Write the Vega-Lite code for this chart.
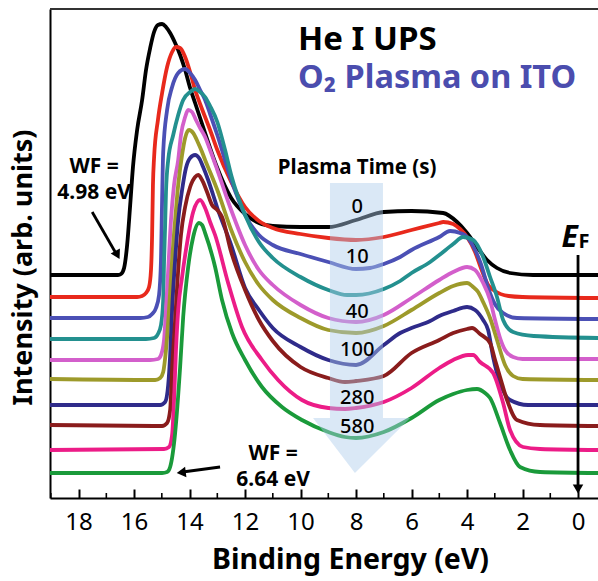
{
  "$schema": "https://vega.github.io/schema/vega-lite/v6.json",
  "width": 548,
  "height": 489,
  "autosize": {"type": "none"},
  "padding": {"left": 50, "top": 9, "right": 0, "bottom": 83},
  "background": "white",
  "config": {"view": {"stroke": null}, "font": "Noto Sans"},
  "datasets": {
    "curves": [
      {"s":"s01","e":19.03,"i":223},{"s":"s01","e":17.0,"i":223},{"s":"s01","e":16.58,"i":223},{"s":"s01","e":16.47,"i":224},{"s":"s01","e":16.36,"i":230},{"s":"s01","e":16.25,"i":253},{"s":"s01","e":16.14,"i":293},{"s":"s01","e":16.04,"i":331},{"s":"s01","e":15.89,"i":368},{"s":"s01","e":15.71,"i":398},{"s":"s01","e":15.57,"i":428},{"s":"s01","e":15.42,"i":450},{"s":"s01","e":15.28,"i":466},{"s":"s01","e":15.14,"i":473},{"s":"s01","e":14.99,"i":474},{"s":"s01","e":14.85,"i":471},{"s":"s01","e":14.70,"i":465},{"s":"s01","e":14.52,"i":455},{"s":"s01","e":14.34,"i":443},{"s":"s01","e":14.16,"i":428},{"s":"s01","e":13.98,"i":410},{"s":"s01","e":13.80,"i":395},{"s":"s01","e":13.62,"i":380},{"s":"s01","e":13.44,"i":365},{"s":"s01","e":13.26,"i":350},{"s":"s01","e":13.0,"i":330},{"s":"s01","e":12.5,"i":300},{"s":"s01","e":12.0,"i":284},{"s":"s01","e":11.5,"i":275},{"s":"s01","e":11.0,"i":272},{"s":"s01","e":10.0,"i":271},{"s":"s01","e":9.0,"i":271},{"s":"s01","e":8.0,"i":278},{"s":"s01","e":7.0,"i":286},{"s":"s01","e":6.0,"i":287},{"s":"s01","e":4.86,"i":285},{"s":"s01","e":4.36,"i":276},{"s":"s01","e":4.0,"i":265},{"s":"s01","e":3.64,"i":251},{"s":"s01","e":3.28,"i":238},{"s":"s01","e":2.92,"i":230},{"s":"s01","e":2.45,"i":225},{"s":"s01","e":1.62,"i":223},{"s":"s01","e":-0.72,"i":223},

      {"s":"s02","e":19.03,"i":201},{"s":"s02","e":16.0,"i":201},{"s":"s02","e":15.89,"i":201},{"s":"s02","e":15.71,"i":202},{"s":"s02","e":15.57,"i":205},{"s":"s02","e":15.46,"i":211},{"s":"s02","e":15.39,"i":228},{"s":"s02","e":15.35,"i":263},{"s":"s02","e":15.32,"i":313},{"s":"s02","e":15.28,"i":340},{"s":"s02","e":15.14,"i":378},{"s":"s02","e":14.99,"i":405},{"s":"s02","e":14.81,"i":431},{"s":"s02","e":14.63,"i":446},{"s":"s02","e":14.49,"i":451},{"s":"s02","e":14.34,"i":450},{"s":"s02","e":14.16,"i":441},{"s":"s02","e":13.98,"i":426},{"s":"s02","e":13.80,"i":408},{"s":"s02","e":13.62,"i":394},{"s":"s02","e":13.44,"i":381},{"s":"s02","e":13.26,"i":368},{"s":"s02","e":13.0,"i":348},{"s":"s02","e":12.5,"i":316},{"s":"s02","e":12.0,"i":291},{"s":"s02","e":11.5,"i":277},{"s":"s02","e":11.0,"i":270},{"s":"s02","e":10.0,"i":264},{"s":"s02","e":9.0,"i":260},{"s":"s02","e":8.0,"i":258},{"s":"s02","e":7.0,"i":261},{"s":"s02","e":6.0,"i":268},{"s":"s02","e":5.0,"i":275},{"s":"s02","e":4.86,"i":276},{"s":"s02","e":4.5,"i":274},{"s":"s02","e":4.25,"i":269},{"s":"s02","e":4.0,"i":261},{"s":"s02","e":3.71,"i":246},{"s":"s02","e":3.5,"i":230},{"s":"s02","e":3.24,"i":213},{"s":"s02","e":3.0,"i":207},{"s":"s02","e":2.5,"i":202},{"s":"s02","e":2.0,"i":201},{"s":"s02","e":-0.72,"i":200},

      {"s":"s03","e":19.03,"i":180},{"s":"s03","e":15.78,"i":180},{"s":"s03","e":15.5,"i":181},{"s":"s03","e":15.35,"i":184},{"s":"s03","e":15.21,"i":190},{"s":"s03","e":15.10,"i":203},{"s":"s03","e":15.03,"i":238},{"s":"s03","e":14.99,"i":298},{"s":"s03","e":14.95,"i":346},{"s":"s03","e":14.81,"i":388},{"s":"s03","e":14.63,"i":411},{"s":"s03","e":14.41,"i":425},{"s":"s03","e":14.16,"i":429},{"s":"s03","e":13.98,"i":425},{"s":"s03","e":13.80,"i":418},{"s":"s03","e":13.62,"i":408},{"s":"s03","e":13.44,"i":398},{"s":"s03","e":13.26,"i":384},{"s":"s03","e":13.0,"i":363},{"s":"s03","e":12.5,"i":318},{"s":"s03","e":12.0,"i":283},{"s":"s03","e":11.5,"i":263},{"s":"s03","e":11.0,"i":253},{"s":"s03","e":10.0,"i":244},{"s":"s03","e":9.0,"i":236},{"s":"s03","e":8.0,"i":229},{"s":"s03","e":7.5,"i":230},{"s":"s03","e":7.0,"i":234},{"s":"s03","e":6.41,"i":241},{"s":"s03","e":6.0,"i":248},{"s":"s03","e":5.0,"i":261},{"s":"s03","e":4.61,"i":267},{"s":"s03","e":4.25,"i":265},{"s":"s03","e":4.0,"i":261},{"s":"s03","e":3.71,"i":248},{"s":"s03","e":3.5,"i":234},{"s":"s03","e":3.24,"i":210},{"s":"s03","e":3.0,"i":194},{"s":"s03","e":2.7,"i":185},{"s":"s03","e":2.2,"i":180},{"s":"s03","e":-0.72,"i":179},

      {"s":"s04","e":19.03,"i":159},{"s":"s04","e":15.57,"i":159},{"s":"s04","e":15.28,"i":160},{"s":"s04","e":15.14,"i":164},{"s":"s04","e":15.03,"i":173},{"s":"s04","e":14.95,"i":198},{"s":"s04","e":14.92,"i":236},{"s":"s04","e":14.88,"i":273},{"s":"s04","e":14.85,"i":306},{"s":"s04","e":14.77,"i":338},{"s":"s04","e":14.59,"i":363},{"s":"s04","e":14.41,"i":383},{"s":"s04","e":14.23,"i":398},{"s":"s04","e":13.98,"i":406},{"s":"s04","e":13.80,"i":409},{"s":"s04","e":13.62,"i":406},{"s":"s04","e":13.44,"i":401},{"s":"s04","e":13.26,"i":392},{"s":"s04","e":13.0,"i":376},{"s":"s04","e":12.72,"i":348},{"s":"s04","e":12.5,"i":323},{"s":"s04","e":12.0,"i":283},{"s":"s04","e":11.5,"i":256},{"s":"s04","e":11.0,"i":240},{"s":"s04","e":10.0,"i":221},{"s":"s04","e":9.0,"i":208},{"s":"s04","e":8.32,"i":203},{"s":"s04","e":8.0,"i":203},{"s":"s04","e":7.0,"i":209},{"s":"s04","e":6.41,"i":217},{"s":"s04","e":6.0,"i":225},{"s":"s04","e":5.33,"i":236},{"s":"s04","e":5.0,"i":243},{"s":"s04","e":4.5,"i":254},{"s":"s04","e":4.14,"i":261},{"s":"s04","e":3.78,"i":258},{"s":"s04","e":3.42,"i":241},{"s":"s04","e":3.17,"i":221},{"s":"s04","e":2.92,"i":201},{"s":"s04","e":2.70,"i":178},{"s":"s04","e":2.34,"i":166},{"s":"s04","e":1.6,"i":162},{"s":"s04","e":-0.72,"i":160},

      {"s":"s05","e":19.03,"i":138},{"s":"s05","e":15.42,"i":138},{"s":"s05","e":15.14,"i":139},{"s":"s05","e":15.03,"i":143},{"s":"s05","e":14.92,"i":158},{"s":"s05","e":14.85,"i":188},{"s":"s05","e":14.77,"i":228},{"s":"s05","e":14.67,"i":278},{"s":"s05","e":14.56,"i":313},{"s":"s05","e":14.41,"i":338},{"s":"s05","e":14.31,"i":363},{"s":"s05","e":14.16,"i":381},{"s":"s05","e":14.05,"i":388},{"s":"s05","e":13.91,"i":386},{"s":"s05","e":13.77,"i":378},{"s":"s05","e":13.62,"i":370},{"s":"s05","e":13.44,"i":361},{"s":"s05","e":13.26,"i":348},{"s":"s05","e":13.0,"i":328},{"s":"s05","e":12.5,"i":288},{"s":"s05","e":12.0,"i":253},{"s":"s05","e":11.5,"i":228},{"s":"s05","e":11.0,"i":213},{"s":"s05","e":10.0,"i":193},{"s":"s05","e":9.0,"i":180},{"s":"s05","e":8.0,"i":176},{"s":"s05","e":7.0,"i":183},{"s":"s05","e":6.0,"i":200},{"s":"s05","e":5.0,"i":218},{"s":"s05","e":4.5,"i":226},{"s":"s05","e":4.0,"i":231},{"s":"s05","e":3.71,"i":228},{"s":"s05","e":3.42,"i":215},{"s":"s05","e":3.17,"i":198},{"s":"s05","e":2.99,"i":178},{"s":"s05","e":2.81,"i":160},{"s":"s05","e":2.63,"i":148},{"s":"s05","e":2.34,"i":141},{"s":"s05","e":2.0,"i":139},{"s":"s05","e":-0.72,"i":139},

      {"s":"s06","e":19.03,"i":119},{"s":"s06","e":15.24,"i":118},{"s":"s06","e":15.06,"i":120},{"s":"s06","e":14.95,"i":126},{"s":"s06","e":14.85,"i":148},{"s":"s06","e":14.74,"i":188},{"s":"s06","e":14.63,"i":238},{"s":"s06","e":14.52,"i":278},{"s":"s06","e":14.41,"i":313},{"s":"s06","e":14.27,"i":343},{"s":"s06","e":14.16,"i":360},{"s":"s06","e":14.02,"i":368},{"s":"s06","e":13.87,"i":365},{"s":"s06","e":13.69,"i":355},{"s":"s06","e":13.55,"i":346},{"s":"s06","e":13.44,"i":338},{"s":"s06","e":13.26,"i":326},{"s":"s06","e":13.0,"i":308},{"s":"s06","e":12.5,"i":268},{"s":"s06","e":12.0,"i":236},{"s":"s06","e":11.5,"i":213},{"s":"s06","e":11.0,"i":198},{"s":"s06","e":10.0,"i":180},{"s":"s06","e":9.0,"i":168},{"s":"s06","e":8.0,"i":165},{"s":"s06","e":7.0,"i":172},{"s":"s06","e":6.0,"i":188},{"s":"s06","e":5.0,"i":205},{"s":"s06","e":4.5,"i":212},{"s":"s06","e":4.0,"i":215},{"s":"s06","e":3.78,"i":211},{"s":"s06","e":3.60,"i":206},{"s":"s06","e":3.42,"i":196},{"s":"s06","e":3.17,"i":180},{"s":"s06","e":2.92,"i":158},{"s":"s06","e":2.63,"i":133},{"s":"s06","e":2.34,"i":122},{"s":"s06","e":2.0,"i":119},{"s":"s06","e":-0.72,"i":118},

      {"s":"s07","e":19.03,"i":93},{"s":"s07","e":15.06,"i":93},{"s":"s07","e":14.88,"i":96},{"s":"s07","e":14.77,"i":113},{"s":"s07","e":14.70,"i":143},{"s":"s07","e":14.63,"i":188},{"s":"s07","e":14.52,"i":238},{"s":"s07","e":14.41,"i":278},{"s":"s07","e":14.27,"i":308},{"s":"s07","e":14.13,"i":330},{"s":"s07","e":13.98,"i":340},{"s":"s07","e":13.80,"i":343},{"s":"s07","e":13.66,"i":340},{"s":"s07","e":13.51,"i":331},{"s":"s07","e":13.33,"i":318},{"s":"s07","e":13.15,"i":303},{"s":"s07","e":13.0,"i":290},{"s":"s07","e":12.5,"i":253},{"s":"s07","e":12.0,"i":210},{"s":"s07","e":11.5,"i":188},{"s":"s07","e":11.0,"i":170},{"s":"s07","e":10.0,"i":151},{"s":"s07","e":9.0,"i":138},{"s":"s07","e":8.0,"i":133},{"s":"s07","e":7.0,"i":153},{"s":"s07","e":6.41,"i":165},{"s":"s07","e":6.0,"i":170},{"s":"s07","e":5.33,"i":177},{"s":"s07","e":5.0,"i":182},{"s":"s07","e":4.5,"i":187},{"s":"s07","e":4.0,"i":191},{"s":"s07","e":3.71,"i":188},{"s":"s07","e":3.42,"i":178},{"s":"s07","e":3.24,"i":168},{"s":"s07","e":3.06,"i":141},{"s":"s07","e":2.81,"i":115},{"s":"s07","e":2.45,"i":98},{"s":"s07","e":1.8,"i":93},{"s":"s07","e":-0.72,"i":93},

      {"s":"s08","e":19.03,"i":73},{"s":"s08","e":14.99,"i":72},{"s":"s08","e":14.81,"i":75},{"s":"s08","e":14.70,"i":88},{"s":"s08","e":14.63,"i":128},{"s":"s08","e":14.52,"i":178},{"s":"s08","e":14.41,"i":228},{"s":"s08","e":14.31,"i":263},{"s":"s08","e":14.16,"i":291},{"s":"s08","e":13.98,"i":311},{"s":"s08","e":13.80,"i":321},{"s":"s08","e":13.69,"i":323},{"s":"s08","e":13.55,"i":318},{"s":"s08","e":13.37,"i":306},{"s":"s08","e":13.19,"i":293},{"s":"s08","e":13.0,"i":288},{"s":"s08","e":12.83,"i":281},{"s":"s08","e":12.5,"i":246},{"s":"s08","e":12.0,"i":208},{"s":"s08","e":11.5,"i":178},{"s":"s08","e":11.0,"i":157},{"s":"s08","e":10.0,"i":131},{"s":"s08","e":9.0,"i":120},{"s":"s08","e":8.4,"i":116},{"s":"s08","e":8.0,"i":117},{"s":"s08","e":7.0,"i":122},{"s":"s08","e":6.0,"i":145},{"s":"s08","e":5.0,"i":158},{"s":"s08","e":4.5,"i":165},{"s":"s08","e":4.0,"i":169},{"s":"s08","e":3.82,"i":170},{"s":"s08","e":3.53,"i":164},{"s":"s08","e":3.17,"i":155},{"s":"s08","e":2.99,"i":138},{"s":"s08","e":2.81,"i":121},{"s":"s08","e":2.56,"i":98},{"s":"s08","e":2.2,"i":78},{"s":"s08","e":1.37,"i":73},{"s":"s08","e":-0.72,"i":72},

      {"s":"s09","e":19.03,"i":48},{"s":"s09","e":14.92,"i":49},{"s":"s09","e":14.74,"i":51},{"s":"s09","e":14.63,"i":63},{"s":"s09","e":14.56,"i":98},{"s":"s09","e":14.49,"i":148},{"s":"s09","e":14.41,"i":188},{"s":"s09","e":14.27,"i":221},{"s":"s09","e":14.09,"i":255},{"s":"s09","e":13.87,"i":286},{"s":"s09","e":13.62,"i":298},{"s":"s09","e":13.44,"i":290},{"s":"s09","e":13.26,"i":276},{"s":"s09","e":13.08,"i":263},{"s":"s09","e":12.61,"i":215},{"s":"s09","e":12.11,"i":171},{"s":"s09","e":11.39,"i":138},{"s":"s09","e":10.81,"i":118},{"s":"s09","e":9.95,"i":98},{"s":"s09","e":9.0,"i":90},{"s":"s09","e":8.4,"i":89},{"s":"s09","e":8.0,"i":90},{"s":"s09","e":7.0,"i":96},{"s":"s09","e":6.0,"i":110},{"s":"s09","e":5.0,"i":130},{"s":"s09","e":4.5,"i":138},{"s":"s09","e":3.96,"i":143},{"s":"s09","e":3.78,"i":143},{"s":"s09","e":3.53,"i":136},{"s":"s09","e":3.06,"i":125},{"s":"s09","e":2.70,"i":95},{"s":"s09","e":2.45,"i":68},{"s":"s09","e":1.98,"i":51},{"s":"s09","e":1.37,"i":49},{"s":"s09","e":-0.72,"i":48},

      {"s":"s10","e":19.03,"i":25},{"s":"s10","e":14.99,"i":25},{"s":"s10","e":14.81,"i":26},{"s":"s10","e":14.70,"i":31},{"s":"s10","e":14.52,"i":65},{"s":"s10","e":14.34,"i":131},{"s":"s10","e":14.23,"i":181},{"s":"s10","e":14.05,"i":231},{"s":"s10","e":13.87,"i":261},{"s":"s10","e":13.66,"i":275},{"s":"s10","e":13.55,"i":273},{"s":"s10","e":13.44,"i":265},{"s":"s10","e":13.08,"i":231},{"s":"s10","e":12.83,"i":198},{"s":"s10","e":12.47,"i":165},{"s":"s10","e":12.0,"i":138},{"s":"s10","e":11.39,"i":111},{"s":"s10","e":10.67,"i":91},{"s":"s10","e":9.95,"i":78},{"s":"s10","e":9.0,"i":66},{"s":"s10","e":8.4,"i":61},{"s":"s10","e":8.0,"i":60},{"s":"s10","e":7.0,"i":66},{"s":"s10","e":6.0,"i":80},{"s":"s10","e":5.0,"i":98},{"s":"s10","e":4.5,"i":104},{"s":"s10","e":4.0,"i":108},{"s":"s10","e":3.64,"i":109},{"s":"s10","e":3.35,"i":105},{"s":"s10","e":3.17,"i":100},{"s":"s10","e":2.81,"i":75},{"s":"s10","e":2.45,"i":48},{"s":"s10","e":2.09,"i":31},{"s":"s10","e":1.37,"i":26},{"s":"s10","e":-0.72,"i":25}
    ]
  },
  "layer": [
    {
      "data": {"name": "curves"},
      "mark": {"type": "line", "strokeWidth": 3.8, "interpolate": "monotone"},
      "encoding": {
        "x": {"field": "e", "type": "quantitative",
          "scale": {"domain": [-0.72, 19.03], "reverse": true, "nice": false, "zero": false},
          "axis": {"values": [18,16,14,12,10,8,6,4,2,0], "title": "Binding Energy (eV)", "titleFontSize": 28.5, "titleFontWeight": "bold", "titleX": 300, "titleY": 70, "titleBaseline": "alphabetic", "titleColor": "#000",
            "labelFontSize": 24, "labelColor": "#000", "labelPadding": 21, "labelFlush": false, "labelOverlap": false,
            "tickSize": -9, "tickWidth": 2, "tickColor": "#000", "domainColor": "#000", "domainWidth": 2, "grid": false}},
        "y": {"field": "i", "type": "quantitative",
          "scale": {"domain": [0, 489], "nice": false, "zero": false},
          "axis": {"title": "Intensity (arb. units)", "ticks": false, "labels": false, "grid": false, "domainColor": "#000", "domainWidth": 2, "titleFontSize": 27, "titleFontWeight": "bold", "titleColor": "#000", "titleX": -27, "titleY": 258, "titleAngle": -90, "titleAlign": "center", "titleBaseline": "middle"}},
        "color": {"field": "s", "type": "nominal", "legend": null,
          "scale": {"domain": ["s01","s02","s03","s04","s05","s06","s07","s08","s09","s10"],
            "range": ["#000000","#e8291c","#4b50b5","#23908f","#d35fcb","#9d9a2a","#2f2b8a","#8a1c1c","#ec1c87","#1a9a3a"]}}
      }
    },
    {
      "data": {"values": [{"e1": 8.94, "e2": 7.03, "i1": 80, "i2": 315}]},
      "mark": {"type": "rect", "color": "#aecbeb", "opacity": 0.45},
      "encoding": {
        "x": {"field": "e1", "type": "quantitative"},
        "x2": {"field": "e2"},
        "y": {"field": "i1", "type": "quantitative"},
        "y2": {"field": "i2"}
      }
    },
    {
      "data": {"values": [{"e": 9.55, "t": 80, "b": 80}, {"e": 8.04, "t": 80, "b": 25}, {"e": 6.05, "t": 80, "b": 80}]},
      "mark": {"type": "area", "color": "#aecbeb", "opacity": 0.45, "interpolate": "linear"},
      "encoding": {
        "x": {"field": "e", "type": "quantitative"},
        "y": {"field": "t", "type": "quantitative"},
        "y2": {"field": "b"}
      }
    },
    {
      "data": {"values": [{"t": "0", "e": 7.96, "i": 291}, {"t": "10", "e": 7.96, "i": 241}, {"t": "40", "e": 7.96, "i": 186}, {"t": "100", "e": 7.96, "i": 148}, {"t": "280", "e": 7.96, "i": 100}, {"t": "580", "e": 7.96, "i": 71}]},
      "mark": {"type": "text", "fontSize": 20, "fontWeight": 500, "color": "#000", "align": "center", "baseline": "middle"},
      "encoding": {
        "x": {"field": "e", "type": "quantitative"},
        "y": {"field": "i", "type": "quantitative"},
        "text": {"field": "t"}
      }
    },
    {
      "data": {"values": [{"t": "Plasma Time (s)", "e": 7.96, "i": 330}]},
      "mark": {"type": "text", "fontSize": 20.5, "fontWeight": "bold", "color": "#000", "align": "center", "baseline": "middle"},
      "encoding": {
        "x": {"field": "e", "type": "quantitative"},
        "y": {"field": "i", "type": "quantitative"},
        "text": {"field": "t"}
      }
    },
    {
      "data": {"values": [{"t": "He I UPS", "e": 10.09, "i": 448}]},
      "mark": {"type": "text", "fontSize": 33, "fontWeight": "bold", "color": "#000", "align": "left", "baseline": "alphabetic"},
      "encoding": {
        "x": {"field": "e", "type": "quantitative"},
        "y": {"field": "i", "type": "quantitative"},
        "text": {"field": "t"}
      }
    },
    {
      "data": {"values": [{"t": "O₂ Plasma on ITO", "e": 10.09, "i": 410}]},
      "mark": {"type": "text", "fontSize": 32.5, "fontWeight": "bold", "color": "#4b4dae", "align": "left", "baseline": "alphabetic"},
      "encoding": {
        "x": {"field": "e", "type": "quantitative"},
        "y": {"field": "i", "type": "quantitative"},
        "text": {"field": "t"}
      }
    },
    {
      "data": {"values": [{"t": "WF =", "e": 17.44, "i": 331}, {"t": "4.98 eV", "e": 17.44, "i": 305}, {"t": "WF =", "e": 10.99, "i": 44}, {"t": "6.64 eV", "e": 10.99, "i": 18}]},
      "mark": {"type": "text", "fontSize": 21, "fontWeight": "bold", "color": "#000", "align": "center", "baseline": "middle"},
      "encoding": {
        "x": {"field": "e", "type": "quantitative"},
        "y": {"field": "i", "type": "quantitative"},
        "text": {"field": "t"}
      }
    },
    {
      "data": {"values": [{"e1": 17.51, "i1": 286, "e2": 16.66, "i2": 245}, {"e1": 12.90, "i1": 31, "e2": 14.25, "i2": 26}, {"e1": 0, "i1": 243, "e2": 0, "i2": 12}]},
      "mark": {"type": "rule", "strokeWidth": 2.8, "color": "#000"},
      "encoding": {
        "x": {"field": "e1", "type": "quantitative"},
        "y": {"field": "i1", "type": "quantitative"},
        "x2": {"field": "e2"},
        "y2": {"field": "i2"}
      }
    },
    {
      "data": {"values": [{"e": 16.6, "i": 243}]},
      "mark": {"type": "point", "shape": "triangle-down", "filled": true, "size": 110, "color": "#000", "opacity": 1, "angle": 332},
      "encoding": {
        "x": {"field": "e", "type": "quantitative"},
        "y": {"field": "i", "type": "quantitative"}
      }
    },
    {
      "data": {"values": [{"e": 14.3, "i": 25.5}]},
      "mark": {"type": "point", "shape": "triangle-left", "filled": true, "size": 110, "color": "#000", "opacity": 1, "angle": 353},
      "encoding": {
        "x": {"field": "e", "type": "quantitative"},
        "y": {"field": "i", "type": "quantitative"}
      }
    },
    {
      "data": {"values": [{"e": 0, "i": 9}]},
      "mark": {"type": "point", "shape": "triangle-down", "filled": true, "size": 110, "color": "#000", "opacity": 1},
      "encoding": {
        "x": {"field": "e", "type": "quantitative"},
        "y": {"field": "i", "type": "quantitative"}
      }
    },
    {
      "data": {"values": [{"t": "E", "e": 0.3, "i": 251}]},
      "mark": {"type": "text", "fontSize": 30, "fontWeight": "bold", "fontStyle": "italic", "color": "#000", "align": "center", "baseline": "alphabetic"},
      "encoding": {
        "x": {"field": "e", "type": "quantitative"},
        "y": {"field": "i", "type": "quantitative"},
        "text": {"field": "t"}
      }
    },
    {
      "data": {"values": [{"t": "F", "e": -0.02, "i": 250}]},
      "mark": {"type": "text", "fontSize": 20, "fontWeight": "bold", "color": "#000", "align": "left", "baseline": "alphabetic"},
      "encoding": {
        "x": {"field": "e", "type": "quantitative"},
        "y": {"field": "i", "type": "quantitative"},
        "text": {"field": "t"}
      }
    },
    {
      "data": {"values": [{"i": 489}]},
      "mark": {"type": "rule", "strokeWidth": 2, "color": "#333"},
      "encoding": {
        "y": {"field": "i", "type": "quantitative"}
      }
    },
    {
      "data": {"values": [{"e": 19, "i1": 0, "i2": 5}, {"e": 17, "i1": 0, "i2": 5}, {"e": 15, "i1": 0, "i2": 5}, {"e": 13, "i1": 0, "i2": 5}, {"e": 11, "i1": 0, "i2": 5}, {"e": 9, "i1": 0, "i2": 5}, {"e": 7, "i1": 0, "i2": 5}, {"e": 5, "i1": 0, "i2": 5}, {"e": 3, "i1": 0, "i2": 5}, {"e": 1, "i1": 0, "i2": 5}]},
      "mark": {"type": "rule", "strokeWidth": 1.6, "color": "#000"},
      "encoding": {
        "x": {"field": "e", "type": "quantitative"},
        "y": {"field": "i1", "type": "quantitative"},
        "y2": {"field": "i2"}
      }
    }
  ]
}
